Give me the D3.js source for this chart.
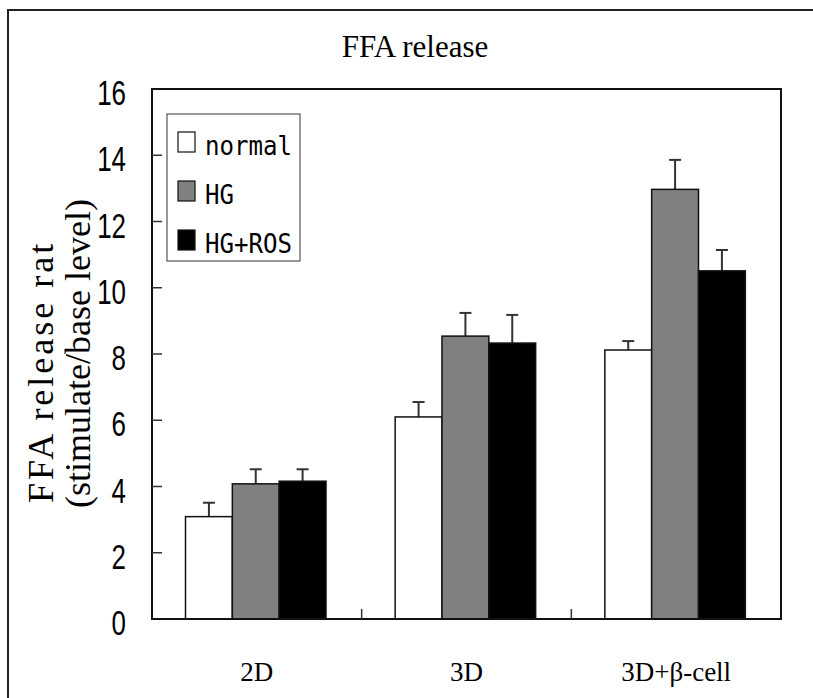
<script src="https://cdnjs.cloudflare.com/ajax/libs/d3/7.8.5/d3.min.js"></script>
<style>
	body { margin: 0; background: #fff; }
	svg#plot { display: block; }
</style>
<svg id="plot" width="813" height="698"></svg>
<script>

	var categories = ["2D", "3D", "3D+\u03b2-cell"];
	var series = ["normal", "HG", "HG+ROS"];
	var colors = ["#ffffff", "#808080", "#000000"];
	var normalVals = [3.09, 6.1, 8.12];
	var hgVals = [4.08, 8.54, 12.97];
	var rosVals = [4.16, 8.33, 10.51];
	var normalErr = [0.42, 0.45, 0.27];
	var hgErr = [0.44, 0.7, 0.89];
	var rosErr = [0.36, 0.85, 0.63];
	var yTicks = [0, 2, 4, 6, 8, 10, 12, 14, 16];

	var vals = [normalVals, hgVals, rosVals],
		errs = [normalErr, hgErr, rosErr];

	var pLeft = 152, pRight = 781, pTop = 89, pBottom = 619;

	var svg = d3.select("#plot");

	// outer frame (runs off the right and bottom edges)
	svg.append("rect")
		.attr("x", 8).attr("y", 10)
		.attr("width", 900).attr("height", 800)
		.attr("fill", "none")
		.attr("stroke", "#222")
		.attr("stroke-width", 2);

	var y = d3.scaleLinear().domain([0, 16]).range([pBottom, pTop]);
	var x0 = d3.scaleBand().domain(categories).range([pLeft, pRight]);
	var x1 = d3.scaleBand().domain(series).range([33.5, 33.5 + 140.5]);

	// bars
	var data = [];
	categories.forEach(function(c, i){
		series.forEach(function(s, j){
			data.push({cat: c, s: s, v: vals[j][i], e: errs[j][i], col: colors[j]});
		});
	});

	function cx(d){ return x0(d.cat) + x1(d.s) + x1.bandwidth()/2 }

	// error bars first so the bar outline sits on top
	var eb = svg.selectAll(".err").data(data).enter().append("g").attr("class", "err");
	eb.append("line")
		.attr("x1", cx).attr("x2", cx)
		.attr("y1", function(d){ return y(d.v) })
		.attr("y2", function(d){ return y(d.v + d.e) })
		.style("stroke", "#333").style("stroke-width", 2);
	eb.append("line")
		.attr("x1", function(d){ return cx(d) - 6 })
		.attr("x2", function(d){ return cx(d) + 6 })
		.attr("y1", function(d){ return y(d.v + d.e) })
		.attr("y2", function(d){ return y(d.v + d.e) })
		.style("stroke", "#333").style("stroke-width", 2);

	svg.selectAll(".bar").data(data).enter()
		.append("rect")
		.attr("class", "bar")
		.attr("x", function(d){ return x0(d.cat) + x1(d.s) })
		.attr("y", function(d){ return y(d.v) })
		.attr("width", x1.bandwidth())
		.attr("height", function(d){ return pBottom - y(d.v) })
		.attr("fill", function(d){ return d.col })
		.attr("stroke", "#111")
		.attr("stroke-width", 1.5);

	// plot frame
	svg.append("rect")
		.attr("x", pLeft).attr("y", pTop)
		.attr("width", pRight - pLeft).attr("height", pBottom - pTop)
		.attr("fill", "none")
		.attr("stroke", "#111")
		.attr("stroke-width", 2);

	// y ticks (inward) and labels
	svg.selectAll(".ytick").data(yTicks.slice(1, -1)).enter()
		.append("line")
		.attr("x1", pLeft).attr("x2", pLeft + 10)
		.attr("y1", function(d){ return y(d) })
		.attr("y2", function(d){ return y(d) })
		.style("stroke", "#333").style("stroke-width", 1.5);

	svg.selectAll(".ylab").data(yTicks).enter()
		.append("text")
		.attr("transform", function(d){ return "translate(126," + (y(d) + 16) + ") scale(0.72,1)" })
		.attr("text-anchor", "end")
		.style("font-family", "Liberation Sans, Arial, sans-serif")
		.style("font-size", "36px")
		.text(function(d){ return d });

	// x category ticks (inward)
	svg.selectAll(".xtick").data(categories.slice(1)).enter()
		.append("line")
		.attr("x1", function(d){ return x0(d) })
		.attr("x2", function(d){ return x0(d) })
		.attr("y1", pBottom).attr("y2", pBottom - 10)
		.style("stroke", "#333").style("stroke-width", 1.5);

	svg.selectAll(".xlab").data(categories).enter()
		.append("text")
		.attr("x", function(d){ return x0(d) + x0.bandwidth()/2 })
		.attr("y", 681)
		.attr("text-anchor", "middle")
		.style("font-family", "Liberation Serif, Times New Roman, serif")
		.style("font-size", "27px")
		.text(function(d){ return d });

	// title
	svg.append("text")
		.attr("x", 415).attr("y", 57)
		.attr("text-anchor", "middle")
		.style("font-family", "Liberation Serif, Times New Roman, serif")
		.style("font-size", "31px")
		.text("FFA release");

	// y axis title, two lines
	svg.append("text")
		.attr("transform", "translate(53,503) rotate(-90)")
		.attr("letter-spacing", "3px")
		.style("font-family", "Liberation Serif, Times New Roman, serif")
		.style("font-size", "36px")
		.text("FFA release rat");
	svg.append("text")
		.attr("transform", "translate(90,508) rotate(-90)")
		.style("font-family", "Liberation Serif, Times New Roman, serif")
		.style("font-size", "36px")
		.text("(stimulate/base level)");

	// legend
	var lg = svg.append("g");
	lg.append("rect")
		.attr("x", 167).attr("y", 114)
		.attr("width", 133).attr("height", 147)
		.attr("fill", "#fff")
		.attr("stroke", "#555")
		.attr("stroke-width", 1.2);
	var li = lg.selectAll(".li").data(series).enter().append("g")
		.attr("transform", function(d, i){ return "translate(0," + (i*49) + ")" });
	li.append("rect")
		.attr("x", 178).attr("y", 132)
		.attr("width", 17).attr("height", 20)
		.attr("fill", function(d, i){ return colors[i] })
		.attr("stroke", "#111")
		.attr("stroke-width", 1.2);
	li.append("text")
		.attr("x", 205).attr("y", 155)
		.attr("textLength", function(d){ return d.length * 14.5 })
		.attr("lengthAdjust", "spacingAndGlyphs")
		.style("font-family", "DejaVu Sans Mono, monospace")
		.style("font-size", "26px")
		.text(function(d){ return d });

</script>
